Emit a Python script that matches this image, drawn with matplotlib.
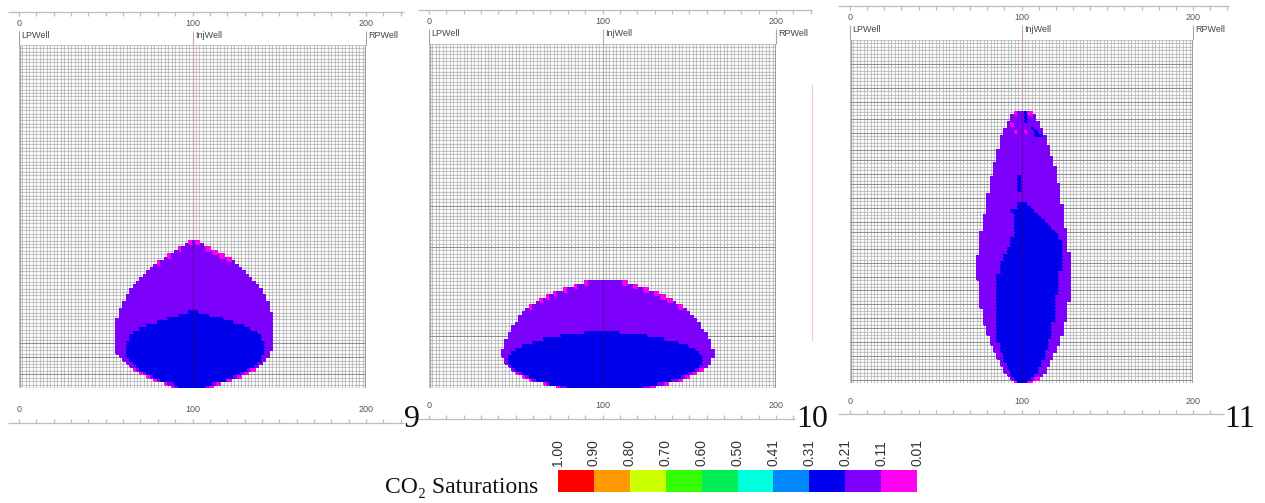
import numpy as np
import matplotlib
matplotlib.use("Agg")
import matplotlib.pyplot as plt
from matplotlib.colors import ListedColormap
from matplotlib.lines import Line2D

# ---------------------------------------------------------------------------
# Saturation classes (legend) and their colours
sat_labels = ["1.00", "0.90", "0.80", "0.70", "0.60", "0.50",
              "0.41", "0.31", "0.21", "0.11", "0.01"]
sat_colors = ["#ff0000", "#ff9900", "#ccff00", "#33ff00", "#00ee55",
              "#00ffdd", "#0088ff", "#0000ee", "#8000ff", "#ff00f0"]
CLASS_BLUE, CLASS_PURPLE, CLASS_PINK = 7, 8, 9   # 0.21-0.31, 0.11-0.21, 0.01-0.11

panel_names = ["9", "10", "11"]
well_names = ["LPWell", "InjWell", "RPWell"]
well_pos = [0, 100, 200]
ruler_labels = [0, 100, 200]

# Plume extents per grid row (row 0 = bottom), first/last column (inclusive)
p9_outer_left = [44, 42, 39, 37, 35, 33, 32, 31, 30, 29, 28, 28, 28, 28, 28, 28, 28, 28, 28, 28,
                 29, 29, 29, 30, 30, 31, 31, 32, 32, 33, 34, 35, 36, 37, 38, 39, 40, 42, 43, 45,
                 46, 48, 49]
p9_outer_right = [55, 57, 60, 63, 65, 67, 68, 69, 70, 71, 71, 72, 72, 72, 72, 72, 72, 72, 72, 72,
                  72, 72, 71, 71, 71, 70, 70, 69, 69, 68, 67, 66, 65, 64, 63, 62, 61, 60, 58, 56,
                  54, 52, 51]
p9_core_left = [46, 45, 41, 39, 37, 35, 34, 33, 32, 31, 31, 31, 31, 31, 32, 32, 33, 35, 37, 40,
                43, 46, 49]
p9_core_right = [53, 55, 59, 61, 63, 65, 67, 68, 69, 69, 70, 70, 70, 70, 69, 69, 68, 66, 64, 61,
                 58, 54, 51]

p10_outer_left = [37, 33, 29, 27, 25, 24, 23, 22, 22, 21, 21, 22, 22, 22, 23, 23, 24, 24, 25, 26,
                  26, 27, 28, 29, 31, 32, 34, 36, 39, 42, 45]
p10_outer_right = [64, 68, 72, 74, 76, 78, 79, 80, 80, 81, 81, 80, 80, 80, 79, 79, 78, 77, 77, 76,
                   75, 74, 73, 72, 70, 69, 67, 65, 62, 59, 56]
p10_core_left = [40, 35, 31, 29, 27, 25, 24, 23, 23, 23, 24, 25, 27, 30, 33, 38, 45]
p10_core_right = [61, 65, 69, 72, 74, 76, 77, 78, 78, 78, 77, 76, 74, 71, 67, 62, 54]

p11_outer_left = [48, 47, 46, 45, 45, 44, 44, 43, 43, 42, 42, 41, 41, 41, 40, 40, 40, 39, 39, 39,
                  39, 39, 38, 38, 38, 38, 38, 38, 38, 38, 37, 37, 37, 37, 37, 37, 37, 38, 38, 38,
                  38, 38, 38, 38, 39, 39, 39, 39, 39, 40, 40, 40, 40, 40, 40, 41, 41, 41, 41, 41,
                  42, 42, 42, 42, 43, 43, 43, 43, 44, 44, 44, 44, 45, 45, 46, 46, 47, 47, 48]
p11_outer_right = [52, 54, 55, 56, 56, 57, 57, 58, 58, 59, 59, 60, 60, 60, 61, 61, 61, 61, 62, 62,
                   62, 62, 62, 62, 63, 63, 63, 63, 63, 63, 63, 63, 63, 63, 63, 63, 63, 63, 62, 62,
                   62, 62, 62, 62, 62, 61, 61, 61, 61, 61, 61, 61, 60, 60, 60, 60, 60, 60, 59, 59,
                   59, 59, 59, 58, 58, 58, 57, 57, 57, 56, 56, 56, 55, 55, 54, 54, 53, 53, 52]
p11_core_left = [49, 48, 47, 47, 46, 46, 45, 45, 45, 44, 44, 44, 43, 43, 43, 43, 43, 43, 43, 43,
                 43, 43, 43, 43, 43, 43, 43, 43, 43, 43, 43, 43, 44, 44, 44, 44, 45, 45, 46, 46,
                 47, 47, 47, 48, 48, 48, 48, 48, 48, 48, 48, 49, 49]
p11_core_right = [51, 52, 53, 54, 54, 55, 55, 56, 56, 56, 57, 57, 57, 58, 58, 58, 58, 58, 59, 59,
                  59, 59, 59, 59, 59, 59, 60, 60, 60, 60, 60, 60, 60, 61, 61, 61, 61, 61, 61, 61,
                  61, 61, 60, 60, 59, 58, 57, 56, 55, 54, 53, 52, 51]
# isolated cells (column, row)
p11_blue_cols = [49, 49, 49, 49, 49, 47, 51, 51, 51, 53, 54, 54, 55]
p11_blue_rows = [56, 57, 58, 59, 60, 50, 76, 77, 78, 74, 73, 72, 72]
p11_pink_cols = [47, 48, 51]
p11_pink_rows = [75, 73, 73]

# Rows carrying a layer boundary (darker grid line)
p9_layers = [4, 9, 13]
p10_layers = [15, 41, 53]
p11_layers = [1, 4, 8, 12, 16, 19, 23, 27, 31, 35, 39, 44, 47, 51, 54, 58, 61, 65, 68, 73,
              77, 82, 86, 93]

NCOL, NROW = 100, 100

# ---------------------------------------------------------------------------
W, H = 1265, 503
fig = plt.figure(figsize=(W / 100, H / 100), dpi=100)
fig.patch.set_facecolor("white")

SANS = ["Liberation Sans", "DejaVu Sans"]
SERIF = ["Liberation Serif", "DejaVu Serif"]


def px_axes(left, top, right, bottom, **kw):
    return fig.add_axes([left / W, 1 - bottom / H, (right - left) / W, (bottom - top) / H], **kw)


def build_field(outer_l, outer_r, core_l, core_r):
    field = np.full((NROW, NCOL), -1, dtype=int)
    n = len(outer_l)
    for r in range(n):
        field[r, outer_l[r]:outer_r[r] + 1] = CLASS_PURPLE
    for r in range(len(core_l)):
        field[r, core_l[r]:core_r[r] + 1] = CLASS_BLUE
    # thin low-saturation fringe on the stepped outer edge
    big = 10 ** 6
    for r in range(n):
        up_l = outer_l[r + 1] if r + 1 < n else big
        dn_l = outer_l[r - 1] if r > 0 else big
        up_r = outer_r[r + 1] if r + 1 < n else -big
        dn_r = outer_r[r - 1] if r > 0 else -big
        if outer_l[r] < up_l - 1 or outer_l[r] < dn_l - 1 or r in (0, n - 1):
            field[r, outer_l[r]] = CLASS_PINK
        if outer_r[r] > up_r + 1 or outer_r[r] > dn_r + 1 or r in (0, n - 1):
            field[r, outer_r[r]] = CLASS_PINK
    return field


outers = [p9_outer_left, p10_outer_left, p11_outer_left]
fields = [
    build_field(p9_outer_left, p9_outer_right, p9_core_left, p9_core_right),
    build_field(p10_outer_left, p10_outer_right, p10_core_left, p10_core_right),
    build_field(p11_outer_left, p11_outer_right, p11_core_left, p11_core_right),
]
for c, r in zip(p11_blue_cols, p11_blue_rows):
    fields[2][r, c] = CLASS_BLUE
for c, r in zip(p11_pink_cols, p11_pink_rows):
    fields[2][r, c] = CLASS_PINK
layers = [p9_layers, p10_layers, p11_layers]

plume_cmap = ListedColormap(sat_colors)

# panel geometry in pixels: x of unit 0, px per unit, grid top/bottom,
# top ruler y, bottom ruler y, ruler extents (units), label position
panels = [
    dict(x0=19, s=1.735, gt=45, gb=388, tr=12, br=423, top_span=(-6.5, 222), bot_span=(-6.5, 222),
         num_x=412),
    dict(x0=429, s=1.735, gt=44, gb=388, tr=10, br=419, top_span=(-6.5, 221), bot_span=(-6.5, 211),
         num_x=812),
    dict(x0=850, s=1.715, gt=40, gb=383, tr=6, br=414, top_span=(-7, 221), bot_span=(-7, 218),
         num_x=1240),
]

xe = np.linspace(0, 200, NCOL + 1)
ye = np.arange(NROW + 1)
WELL_LIGHT = "#c9a6ae"
EDGE_WELL = "#a4a4a4"

for k, p in enumerate(panels):
    # rulers, well names and well stubs (x in grid units, y in pixels); sits below the grid
    L, R = -10, 226
    ov = px_axes(p["x0"] + L * p["s"], 0, p["x0"] + R * p["s"], 440)
    ov.set_zorder(0)
    ov.set_xlim(L, R)
    ov.set_ylim(440, 0)
    ov.axis("off")
    ov.patch.set_alpha(0)

    ruler_col = "#bcbcbc"
    lab_col = "#555555"
    ticks = np.arange(0, 221, 10)
    # top ruler
    a, b = p["top_span"]
    ov.hlines(p["tr"], a, b, color=ruler_col, lw=0.9)
    ov.vlines(ticks[(ticks >= a) & (ticks <= b)], p["tr"], p["tr"] + 4, color=ruler_col, lw=0.9)
    for v in ruler_labels:
        ov.text(v, p["tr"] + 12, str(v), ha="center", va="center", fontsize=6.5,
                color=lab_col, family=SANS)
    for name, v in zip(well_names, well_pos):
        ov.text(v + 1.5, p["tr"] + 24, name, ha="left", va="center", fontsize=6.5,
                color="#444444", family=SANS)
    # bottom ruler
    a, b = p["bot_span"]
    ov.hlines(p["br"], a, b, color=ruler_col, lw=0.9)
    ov.vlines(ticks[(ticks >= a) & (ticks <= b)], p["br"] - 4, p["br"], color=ruler_col, lw=0.9)
    for v in ruler_labels:
        ov.text(v, p["br"] - 13, str(v), ha="center", va="center", fontsize=6.5,
                color=lab_col, family=SANS)
    # well stubs above the grid
    ov.vlines([well_pos[0], well_pos[2]], p["tr"] + 19, p["gt"], color=EDGE_WELL, lw=0.8)
    ov.vlines(well_pos[1], p["tr"] + 19, p["gt"], color=WELL_LIGHT, lw=0.8)

    # simulation grid
    ax = px_axes(p["x0"], p["gt"], p["x0"] + 200 * p["s"], p["gb"])
    ax.set_zorder(1)
    ax.set_facecolor("#f5f5f5")
    ax.vlines(xe, 0, NROW, color="#b6b6b6", lw=0.5, zorder=1)
    ax.hlines(ye, 0, 200, color="#b6b6b6", lw=0.5, zorder=1)
    ax.hlines(layers[k], 0, 200, color="#8a8a8a", lw=0.6, zorder=1.5)
    ax.vlines(well_pos[1], 0, NROW, color=WELL_LIGHT, lw=0.8, zorder=1.6)
    ax.vlines([well_pos[0] + 0.3, well_pos[2] - 0.3], 0, NROW, color=EDGE_WELL, lw=0.8, zorder=1.6)
    plume = np.ma.masked_less(fields[k], 0)
    ax.pcolormesh(xe, ye, plume, cmap=plume_cmap, vmin=-0.5, vmax=len(sat_colors) - 0.5,
                  edgecolors="face", linewidth=0.2, zorder=2)
    # faint cell outlines over the plume
    ax.vlines(xe, 0, NROW, color="#000040", lw=0.3, alpha=0.10, zorder=2.5)
    ax.hlines(ye, 0, 200, color="#000040", lw=0.3, alpha=0.10, zorder=2.5)
    # injection well trace where it crosses the plume
    ax.vlines(well_pos[1], 0, len(outers[k]), color="#3a1050", lw=0.8, alpha=0.45, zorder=3)
    ax.set_xlim(0, 200)
    ax.set_ylim(0, NROW)
    ax.axis("off")

    # panel number
    fig.text(p["num_x"] / W, 1 - 427 / H, panel_names[k], ha="center", va="baseline",
             fontsize=23, family=SERIF, color="#111111")

# faint trace at the right edge of the middle panel
fig.add_artist(Line2D([812 / W, 812 / W], [1 - 85 / H, 1 - 340 / H], color="#f0c6d4", lw=0.8))

# ---------------------------------------------------------------------------
# saturation legend
cax = px_axes(558, 470, 917, 492)
cax.pcolormesh(np.arange(len(sat_colors) + 1), [0, 1], np.arange(len(sat_colors))[None, :],
               cmap=ListedColormap(sat_colors), vmin=-0.5, vmax=len(sat_colors) - 0.5)
cax.set_xlim(0, len(sat_colors))
cax.set_ylim(0, 1)
cax.xaxis.tick_top()
cax.set_xticks(np.arange(len(sat_labels)))
cax.set_xticklabels(sat_labels, rotation=90, fontsize=10, color="#333333", family=SANS)
cax.tick_params(axis="x", length=0, pad=3)
cax.set_yticks([])
for sp in cax.spines.values():
    sp.set_visible(False)

fig.text(385 / W, 1 - 493 / H, "CO\u2082 Saturations", ha="left", va="baseline",
         fontsize=17, family=SERIF, color="#111111")

fig.savefig("out.png", dpi=100, facecolor="white")
